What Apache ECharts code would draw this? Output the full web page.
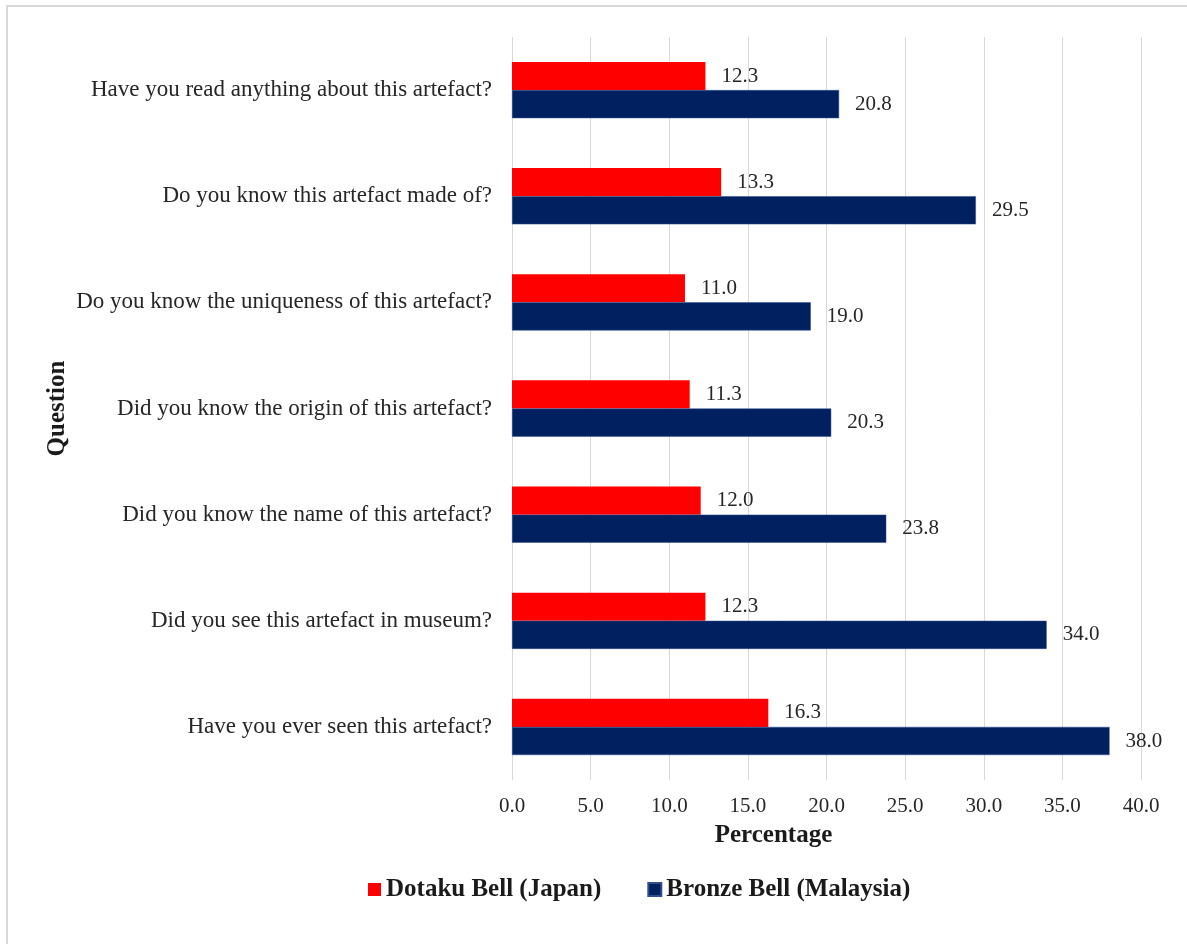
<!DOCTYPE html>
<html>
<head>
<meta charset="utf-8">
<title>Artefact awareness</title>
<script src="https://cdn.jsdelivr.net/npm/echarts@6/dist/echarts.min.js"></script>
<style>
  html, body { margin: 0; padding: 0; background: #fff; }
  #frame {
    position: absolute; left: 6px; top: 5px; width: 1200px; height: 960px;
    border-left: 2px solid #d9d9d9; border-top: 2px solid #d9d9d9;
  }
  #main { position: absolute; left: 0; top: 0; width: 1187px; height: 944px; }
</style>
</head>
<body>
<div id="frame"></div>
<div id="main"></div>
<script>
// questions, listed top to bottom as in the picture
const questions = [
  'Have you read anything about this artefact?',
  'Do you know this artefact made of?',
  'Do you know the uniqueness of this artefact?',
  'Did you know the origin of this artefact?',
  'Did you know the name of this artefact?',
  'Did you see this artefact in museum?',
  'Have you ever seen this artefact?'
]
const dotakuJapan = [12.3, 13.3, 11.0, 11.3, 12.0, 12.3, 16.3]
const bronzeMalaysia = [20.8, 29.5, 19.0, 20.3, 23.8, 34.0, 38.0]
const seriesNames = ['Dotaku Bell (Japan)', 'Bronze Bell (Malaysia)']

const serif = '"Liberation Serif", "DejaVu Serif", serif'

// value labels at the end of each bar
const labelOption = {
  show: true,
  position: 'right',
  distance: 16,
  fontFamily: serif,
  fontSize: 21,
  color: '#262626',
  formatter: p => p.value.toFixed(1)
}

const chart = echarts.init(document.getElementById('main'))

chart.setOption({
  animation: false,
  textStyle: { fontFamily: serif },
  grid: { left: 512, right: 46, top: 37, bottom: 164, containLabel: false },
  legend: {
    top: 872,
    left: 363,
    itemWidth: 13,
    itemHeight: 13,
    itemGap: 46,
    icon: 'rect',
    textStyle: { fontFamily: serif, fontSize: 25, fontWeight: 'bold', color: '#1a1a1a' },
    data: seriesNames
  },
  xAxis: {
    type: 'value',
    min: 0,
    max: 40,
    interval: 5,
    name: 'Percentage',
    nameLocation: 'middle',
    nameGap: 43,
    nameMoveOverlap: false,
    nameTextStyle: { fontFamily: serif, fontSize: 25, fontWeight: 'bold', color: '#1a1a1a', padding: [0, 106, 0, 0] },
    axisLine: { show: false },
    axisTick: { show: false },
    axisLabel: { fontFamily: serif, fontSize: 21, color: '#262626', margin: 16, formatter: v => v.toFixed(1) },
    splitLine: { lineStyle: { color: '#d9d9d9', width: 1 } }
  },
  yAxis: {
    type: 'category',
    inverse: true,
    data: questions,
    name: 'Question',
    nameLocation: 'middle',
    nameGap: 442,
    nameRotate: 90,
    nameMoveOverlap: false,
    nameTextStyle: { fontFamily: serif, fontSize: 25, fontWeight: 'bold', color: '#1a1a1a' },
    axisLine: { show: false },
    axisTick: { show: false },
    axisLabel: { fontFamily: serif, fontSize: 23, color: '#262626', margin: 20 }
  },
  series: [
    {
      name: seriesNames[0],
      type: 'bar',
      barGap: 0,
      barCategoryGap: '47%',
      itemStyle: { color: '#ff0000' },
      label: labelOption,
      data: dotakuJapan
    },
    {
      name: seriesNames[1],
      type: 'bar',
      itemStyle: { color: '#002060', borderColor: '#2f4f8f', borderWidth: 0.5 },
      label: labelOption,
      data: bronzeMalaysia
    }
  ]
})

window.addEventListener('resize', () => chart.resize())
</script>
</body>
</html>
